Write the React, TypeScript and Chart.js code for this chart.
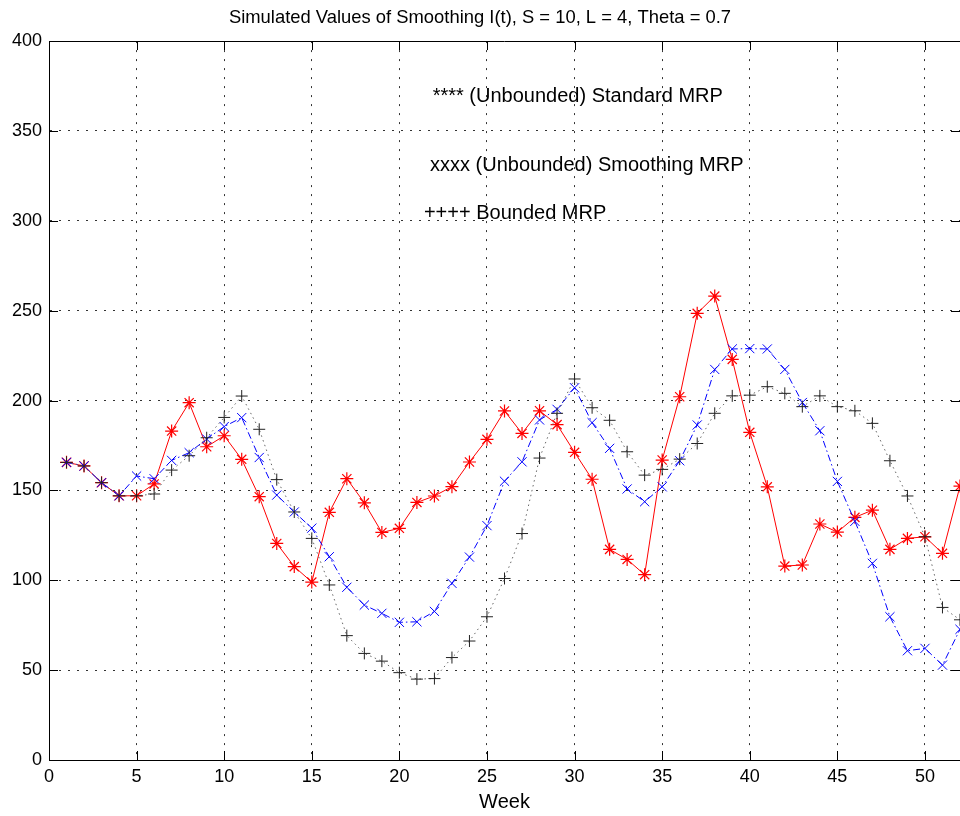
import React, { useEffect, useRef } from "react";
import { Chart, registerables } from "chart.js";

Chart.register(...registerables);

const weeks = [1, 2, 3, 4, 5, 6, 7, 8, 9, 10, 11, 12, 13, 14, 15, 16, 17, 18, 19, 20, 21, 22, 23, 24, 25, 26, 27, 28, 29, 30, 31, 32, 33, 34, 35, 36, 37, 38, 39, 40, 41, 42, 43, 44, 45, 46, 47, 48, 49, 50, 51, 52];

const standardMRP = [165.6, 163.6, 154.3, 147, 147, 153.6, 183, 198.8, 174.3, 180.4, 167.3, 146.5, 120.5, 107.6, 99, 137.8, 156.5, 143.1, 126.6, 128.9, 143.3, 146.9, 152.1, 165.8, 178.4, 194.2, 181.7, 194.3, 186.6, 171.2, 156.2, 117.2, 111.6, 103.1, 166.9, 202.1, 248.5, 258.1, 222.9, 182.3, 152, 107.9, 108.5, 131.3, 126.8, 135, 139, 117.2, 123.3, 124.2, 115, 152.4];

const smoothingMRP = [165.6, 163.6, 154.3, 147, 158, 156.5, 166.7, 171, 178.6, 185.5, 190.5, 168.3, 147.4, 138, 129, 113.1, 96.1, 86.2, 81.6, 76.6, 76.9, 82.7, 98.3, 112.9, 130.4, 155.1, 165.9, 189.2, 195.1, 207.1, 187.7, 173.4, 150.8, 143.7, 152, 166.5, 186.4, 217.3, 228.7, 228.9, 228.7, 217.3, 198.9, 183.2, 155, 132.8, 109.4, 79.7, 60.8, 62.1, 52.8, 72.7];

const boundedMRP = [165.6, 163.6, 154.3, 147, 147, 148, 161.3, 169.3, 179.3, 190.6, 202.5, 184, 156, 138, 123.3, 97.4, 69.2, 59.3, 55, 48.6, 45, 45.3, 57, 66.2, 79.7, 101, 126, 168, 192.9, 212, 196, 189, 171.5, 158.5, 161.7, 167.4, 176.1, 192.9, 202.6, 203, 207.7, 204, 196.6, 202.6, 196.6, 194.3, 187.3, 166.5, 146.9, 124.2, 84.9, 78];

const xTickValues = [0, 5, 10, 15, 20, 25, 30, 35, 40, 45, 50];
const yTickValues = [0, 50, 100, 150, 200, 250, 300, 350, 400];

const titleText = "Simulated Values of Smoothing I(t), S = 10, L = 4, Theta = 0.7";
const xAxisLabel = "Week";

const noteTexts = ["**** (Unbounded) Standard MRP", "xxxx (Unbounded) Smoothing MRP", "++++ Bounded MRP"];
const noteX = [21.9, 21.75, 21.4];
const noteY = [369, 331, 304];

const FONT = '"Liberation Sans", Arial, Helvetica, sans-serif';

const framePlugin = {
  id: "matlabFrame",
  afterDatasetsDraw(chart: any) {
    const { ctx, chartArea, scales } = chart;
    const { left, right, top, bottom } = chartArea;
    const xs = scales.x;
    const ys = scales.y;
    ctx.save();
    ctx.strokeStyle = "#000";
    ctx.lineWidth = 1;
    ctx.setLineDash([]);
    ctx.beginPath();
    const ty = Math.round(top) + 0.5;
    ctx.moveTo(left, ty);
    ctx.lineTo(right, ty);
    const tl = 9;
    xTickValues.forEach((v) => {
      const px = Math.round(xs.getPixelForValue(v)) + 0.5;
      ctx.moveTo(px, bottom);
      ctx.lineTo(px, bottom - tl);
      ctx.moveTo(px, top);
      ctx.lineTo(px, top + tl);
    });
    yTickValues.forEach((v) => {
      const py = Math.round(ys.getPixelForValue(v)) + 0.5;
      ctx.moveTo(left, py);
      ctx.lineTo(left + tl, py);
      ctx.moveTo(right, py);
      ctx.lineTo(right - tl, py);
    });
    ctx.stroke();

    ctx.fillStyle = "#000";
    ctx.font = `20px ${FONT}`;
    ctx.textAlign = "left";
    ctx.textBaseline = "middle";
    noteTexts.forEach((t, i) => {
      ctx.fillText(t, xs.getPixelForValue(noteX[i]), ys.getPixelForValue(noteY[i]));
    });
    ctx.restore();
  },
};

export default function App() {
  const canvasRef = useRef<HTMLCanvasElement | null>(null);

  useEffect(() => {
    const canvas = canvasRef.current;
    if (!canvas) return;
    const toPoints = (vals: number[]) => weeks.map((w, i) => ({ x: w, y: vals[i] }));
    const gridOpts = { color: "#333", lineWidth: 1, drawTicks: false };
    const borderOpts = { display: true, color: "#000", width: 1, dash: [2, 7] };
    const chart = new Chart(canvas, {
      type: "line",
      data: {
        datasets: [
          {
            label: "Standard MRP",
            data: toPoints(standardMRP),
            borderColor: "#ff0000",
            backgroundColor: "#ff0000",
            borderWidth: 1,
            pointStyle: "star",
            pointRadius: 6.5,
            pointBorderColor: "#ff0000",
            pointBorderWidth: 1.2,
            tension: 0,
            fill: false,
            order: 3,
          },
          {
            label: "Smoothing MRP",
            data: toPoints(smoothingMRP),
            borderColor: "#0000ff",
            backgroundColor: "#0000ff",
            borderWidth: 1,
            borderDash: [7, 3, 1.5, 3],
            pointStyle: "crossRot",
            pointRadius: 6.5,
            pointBorderColor: "#0000ff",
            pointBorderWidth: 1,
            tension: 0,
            fill: false,
            order: 2,
          },
          {
            label: "Bounded MRP",
            data: toPoints(boundedMRP),
            borderColor: "#666",
            backgroundColor: "#000",
            borderWidth: 1,
            borderDash: [1.5, 3.5],
            pointStyle: "cross",
            pointRadius: 6,
            pointBorderColor: "#222",
            pointBorderWidth: 1,
            tension: 0,
            fill: false,
            order: 1,
          },
        ],
      },
      options: {
        responsive: false,
        animation: false,
        devicePixelRatio: 1,
        layout: { padding: 0, autoPadding: false },
        plugins: {
          legend: { display: false },
          tooltip: { enabled: false },
          title: {
            display: true,
            text: titleText,
            color: "#000",
            font: { family: FONT, size: 18.4, weight: "normal" },
            padding: { top: 6.5, bottom: 12.5 },
          },
        },
        scales: {
          x: {
            type: "linear",
            min: 0,
            max: 52,
            afterBuildTicks: (s: any) => {
              s.ticks = xTickValues.map((v) => ({ value: v }));
            },
            afterFit: (s: any) => {
              s.height = 56;
              s.paddingLeft = 0;
              s.paddingRight = 0;
            },
            grid: gridOpts,
            border: borderOpts,
            ticks: {
              color: "#000",
              font: { family: FONT, size: 18 },
              padding: 6,
              maxRotation: 0,
              autoSkip: false,
            },
            title: {
              display: true,
              text: xAxisLabel,
              color: "#000",
              font: { family: FONT, size: 20 },
              padding: { top: 0, bottom: 2 },
            },
          },
          y: {
            type: "linear",
            min: 0,
            max: 400,
            afterBuildTicks: (s: any) => {
              s.ticks = yTickValues.map((v) => ({ value: v }));
            },
            afterFit: (s: any) => {
              s.width = 49;
              s.paddingTop = 0;
              s.paddingBottom = 0;
            },
            grid: gridOpts,
            border: borderOpts,
            ticks: {
              color: "#000",
              font: { family: FONT, size: 18 },
              padding: 7,
              autoSkip: false,
            },
          },
        },
      } as any,
      plugins: [framePlugin],
    });
    return () => chart.destroy();
  }, []);

  return (
    <div style={{ position: "absolute", left: 0, top: 0, width: 960, height: 816, background: "#fff" }}>
      <canvas ref={canvasRef} width={960} height={816} style={{ display: "block", width: 960, height: 816 }} />
    </div>
  );
}
